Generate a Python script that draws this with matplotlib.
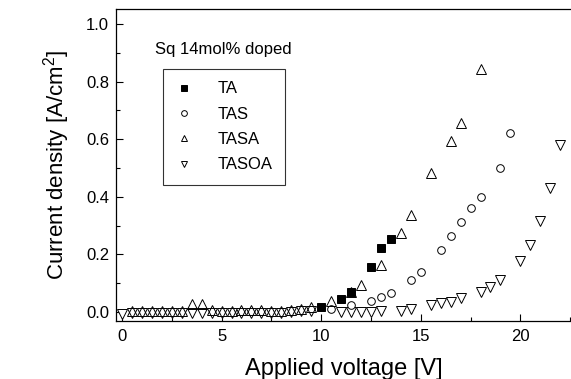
import matplotlib
matplotlib.use("Agg")
import matplotlib.pyplot as plt
from matplotlib.ticker import MultipleLocator

plt.rcParams['font.family'] = ['Liberation Sans', 'DejaVu Sans']

ta_x = [10, 11, 11.5, 12.5, 13, 13.5]
ta_y = [0.018, 0.044, 0.069, 0.155, 0.223, 0.252]

tas_x = [10.5, 11.5, 12.5, 13, 13.5, 14.5, 15, 16, 16.5, 17, 17.5, 18, 19, 19.5]
tas_y = [0.012, 0.024, 0.038, 0.051, 0.065, 0.111, 0.140, 0.215, 0.264, 0.311, 0.360, 0.400, 0.499, 0.620]

tasa_x = [0.5, 1, 1.5, 2, 2.5, 3, 3.5, 4, 4.5, 5, 5.5, 6, 6.5, 7, 7.5, 8, 8.5, 9, 9.5,
          10.5, 11.5, 12, 13, 14, 14.5, 15.5, 16.5, 17, 18]
tasa_y = [0.002, 0.002, 0.002, 0.002, 0.002, 0.004, 0.028, 0.028, 0.006, 0.004, 0.004, 0.006,
          0.006, 0.006, 0.004, 0.004, 0.008, 0.012, 0.018,
          0.038, 0.069, 0.094, 0.163, 0.273, 0.337, 0.481, 0.594, 0.655, 0.843]

tasoa_x = [0, 0.5, 1, 1.5, 2, 2.5, 3, 3.5, 4, 4.5, 5, 5.5, 6, 6.5, 7, 7.5, 8, 8.5, 9, 9.5,
           11, 11.5, 12, 12.5, 13, 14, 14.5, 15.5, 16, 16.5, 17, 18, 18.5, 19, 20, 20.5,
           21, 21.5, 22]
tasoa_y = [-0.006, -0.004, -0.004, -0.004, -0.004, -0.004, -0.003, -0.002, -0.002, -0.003,
           -0.003, -0.003, -0.002, -0.002, -0.002, -0.002, -0.002, 0.0, 0.002, 0.004,
           0.0, 0.0, 0.0, 0.0, 0.003, 0.005, 0.010, 0.024, 0.030, 0.036, 0.048, 0.069,
           0.088, 0.111, 0.178, 0.233, 0.315, 0.431, 0.580]

fig = plt.figure(figsize=(5.71, 3.79), dpi=100)
ax = fig.add_axes([116 / 571, 1 - 321 / 379, 1 - 116 / 571 + 0.002, (321 - 9) / 379])

ms = 5.5
ax.plot(tasoa_x, tasoa_y, linestyle='none', marker='v', ms=ms + 1, mfc='white', mec='black', mew=0.7, label='TASOA', zorder=3)
ax.plot(tasa_x, tasa_y, linestyle='none', marker='^', ms=ms + 1, mfc='none', mec='black', mew=0.7, label='TASA', zorder=4)
ax.plot(tas_x, tas_y, linestyle='none', marker='o', ms=ms, mfc='white', mec='black', mew=0.7, label='TAS', zorder=3)
ax.plot(ta_x, ta_y, linestyle='none', marker='s', ms=ms, mfc='black', mec='black', mew=0.7, label='TA', zorder=5)

ax.set_xlim(-0.3, 22.6)
ax.set_ylim(-0.031, 1.052)
ax.xaxis.set_major_locator(MultipleLocator(5))
ax.xaxis.set_minor_locator(MultipleLocator(2.5))
ax.yaxis.set_major_locator(MultipleLocator(0.2))
ax.yaxis.set_minor_locator(MultipleLocator(0.1))
ax.yaxis.set_major_formatter(matplotlib.ticker.FormatStrFormatter('%.1f'))
ax.tick_params(which='both', direction='in', labelsize=12, colors='black', top=False, right=False)
ax.tick_params(which='major', length=5, width=0.8)
ax.tick_params(which='minor', length=3, width=0.8)
ax.tick_params(axis='x', pad=6)
ax.tick_params(axis='y', pad=5)
for s in ax.spines.values():
    s.set_linewidth(0.9)

ax.set_xlabel('Applied voltage [V]', fontsize=17, labelpad=10)
ax.set_ylabel(r'Current density [A/cm$^{\mathregular{2}}$]', fontsize=16, labelpad=10)

ax.text(1.65, 0.912, 'Sq 14mol% doped', fontsize=12, va='center', ha='left')

handles, labels = ax.get_legend_handles_labels()
order = [3, 2, 1, 0]
leg = ax.legend([handles[i] for i in order], [labels[i] for i in order],
                loc='upper left', bbox_to_anchor=(0.103, 0.808), frameon=True,
                fancybox=False, edgecolor='black', fontsize=12, markerscale=0.75,
                handlelength=1.0, handletextpad=1.5, borderpad=0.75, labelspacing=0.62,
                borderaxespad=0)
leg.get_frame().set_linewidth(0.8)

fig.savefig('out.png', dpi=100)
